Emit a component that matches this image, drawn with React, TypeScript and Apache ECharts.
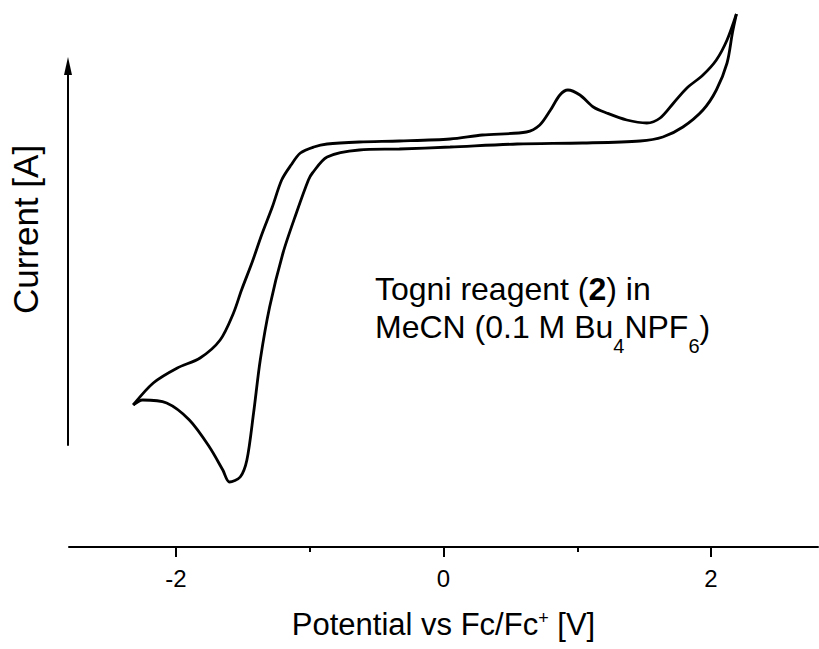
import React, { useEffect, useRef } from "react";
import * as echarts from "echarts";

// Forward (anodic) scan: left vertex -> right vertex
const forwardPotential = [-2.32, -2.17, -1.99, -1.82, -1.67, -1.57, -1.51, -1.43, -1.36, -1.28, -1.21, -1.14, -1.07, -0.97, -0.87, -0.63, -0.33, 0.05, 0.29, 0.62, 0.72, 0.8, 0.87, 0.93, 1.02, 1.12, 1.22, 1.37, 1.52, 1.62, 1.72, 1.82, 1.94, 2.04, 2.12, 2.19];
const forwardCurrent = [14.2, 16.4, 17.9, 18.9, 20.7, 23.4, 25.7, 28.5, 31.2, 34.0, 36.7, 38.2, 39.4, 40.0, 40.3, 40.5, 40.6, 40.8, 41.2, 41.5, 42.2, 43.7, 45.2, 45.7, 45.2, 44.0, 43.4, 42.7, 42.4, 42.9, 44.4, 45.9, 47.2, 48.7, 50.7, 53.3];

// Reverse (cathodic) scan: right vertex -> left vertex
const reversePotential = [2.19, 2.16, 2.12, 2.04, 1.94, 1.79, 1.64, 1.47, 1.04, 0.55, 0.05, -0.33, -0.63, -0.87, -0.98, -1.01, -1.1, -1.2, -1.3, -1.37, -1.42, -1.47, -1.52, -1.6, -1.65, -1.75, -1.9, -2.07, -2.25, -2.32];
const reverseCurrent = [53.3, 51.4, 48.4, 45.7, 43.7, 42.0, 41.0, 40.6, 40.4, 40.3, 40.0, 39.8, 39.7, 39.0, 37.4, 36.7, 33.4, 29.4, 24.0, 18.7, 13.4, 8.7, 7.0, 6.5, 7.7, 10.0, 12.7, 14.4, 14.7, 14.2];

const majorTicks = [-2, 0, 2];
const minorTicks = [-1, 1];

const xTitle = "{m|Potential vs Fc/Fc}{p|+}{m| [V]}";
const yTitle = "Current [A]";
const annotation = "{m|Togni reagent (}{b|2}{m|) in}\n{m|MeCN (0.1 M Bu}{s|4}{m|NPF}{s|6}{m|)}";

const FONT = "'Liberation Sans', Arial, Helvetica, sans-serif";

export default function App() {
  const ref = useRef<HTMLDivElement>(null);

  useEffect(() => {
    if (!ref.current) return;
    const chart = echarts.init(ref.current, null, { renderer: "svg" });
    const fwd = forwardPotential.map((x, i) => [x, forwardCurrent[i]]);
    const rev = reversePotential.map((x, i) => [x, reverseCurrent[i]]);
    const lineStyle = { color: "#000", width: 2.8 };

    chart.setOption({
      animation: false,
      backgroundColor: "#fff",
      grid: [
        { left: 69, right: 1, top: 7, bottom: 102 },
        { left: 68, width: 1, top: 66, bottom: 204 },
      ],
      xAxis: [
        {
          gridIndex: 0,
          type: "value",
          position: "bottom",
          min: -2.8,
          max: 2.8,
          axisLine: { show: true, onZero: false, lineStyle: { color: "#000", width: 2 } },
          axisTick: { show: true, customValues: majorTicks, length: 10, lineStyle: { color: "#000", width: 2 } },
          axisLabel: { show: true, customValues: majorTicks, margin: 19, fontSize: 24, color: "#000", fontFamily: FONT },
          splitLine: { show: false },
          name: xTitle,
          nameLocation: "middle",
          nameGap: 62,
          nameTextStyle: {
            fontSize: 31,
            fontFamily: FONT,
            color: "#000",
            rich: {
              m: { fontSize: 31, lineHeight: 34, verticalAlign: "top", fontFamily: FONT, color: "#000" },
              p: { fontSize: 18, lineHeight: 18, verticalAlign: "top", fontFamily: FONT, color: "#000" },
            },
          },
        },
        {
          gridIndex: 0,
          type: "value",
          position: "bottom",
          min: -2.8,
          max: 2.8,
          axisLine: { show: false, onZero: false },
          axisTick: { show: true, customValues: minorTicks, length: 5, lineStyle: { color: "#000", width: 2 } },
          axisLabel: { show: false },
          splitLine: { show: false },
        },
        { gridIndex: 1, type: "value", show: false, min: 0, max: 1 },
      ],
      yAxis: [
        { gridIndex: 0, type: "value", min: 0, max: 54, show: false },
        {
          gridIndex: 1,
          type: "value",
          position: "left",
          min: 0,
          max: 1,
          axisLine: {
            show: true,
            onZero: false,
            symbol: ["none", "triangle"],
            symbolSize: [8, 18],
            lineStyle: { color: "#000", width: 2 },
          },
          axisTick: { show: false },
          axisLabel: { show: false },
          splitLine: { show: false },
          name: yTitle,
          nameLocation: "middle",
          nameGap: 25,
          nameTextStyle: { fontSize: 35, fontFamily: FONT, color: "#000", padding: [0, 0, 0, 52] },
        },
      ],
      series: [
        {
          type: "line",
          xAxisIndex: 0,
          yAxisIndex: 0,
          data: fwd,
          symbol: "none",
          showSymbol: false,
          smooth: 0.3,
          clip: false,
          lineStyle,
        },
        {
          type: "line",
          xAxisIndex: 0,
          yAxisIndex: 0,
          data: rev,
          symbol: "none",
          showSymbol: false,
          smooth: 0.3,
          clip: false,
          lineStyle,
        },
      ],
      graphic: [
        {
          type: "text",
          x: 375,
          y: 273,
          style: {
            text: annotation,
            fontFamily: FONT,
            fontSize: 32,
            fill: "#000",
            align: "left",
            verticalAlign: "top",
            rich: {
              m: { fontSize: 32, lineHeight: 38, verticalAlign: "top", fontFamily: FONT, fill: "#000" },
              b: { fontSize: 32, lineHeight: 38, verticalAlign: "top", fontWeight: "bold", fontFamily: FONT, fill: "#000" },
              s: { fontSize: 20, lineHeight: 20, verticalAlign: "top", padding: [25, 0, 0, 0], fontFamily: FONT, fill: "#000" },
            },
          },
        },
      ],
    });

    return () => chart.dispose();
  }, []);

  return (
    <div
      ref={ref}
      style={{ position: "fixed", left: 0, top: 0, width: 819, height: 649, background: "#fff" }}
    />
  );
}
